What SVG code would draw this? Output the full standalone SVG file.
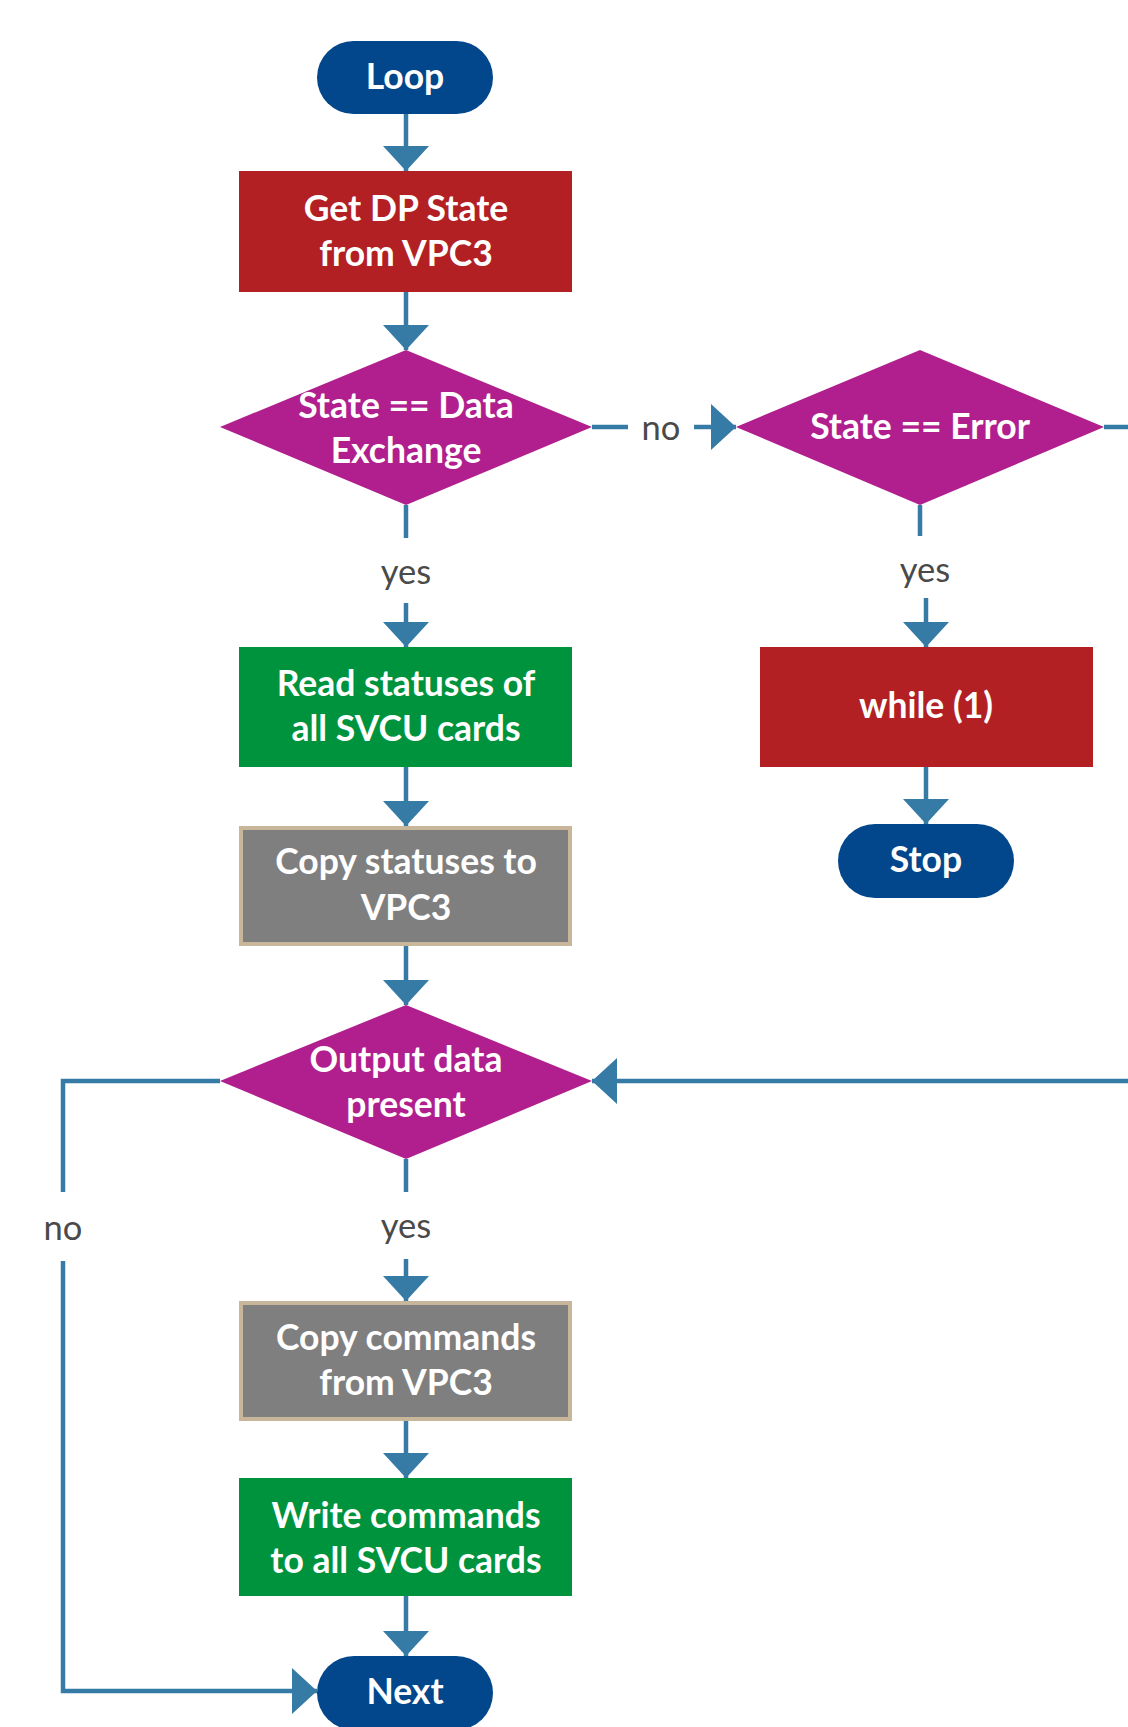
<svg xmlns="http://www.w3.org/2000/svg" width="1128" height="1727" viewBox="0 0 1128 1727">
  <style>
    .term { fill: #02468b; }
    .red { fill: #b22024; }
    .dec { fill: #b01f8d; }
    .green { fill: #00933d; }
    .gray { fill: #7f7f7f; stroke: #c8b69a; stroke-width: 4; }
    .lbl { font-family: Lato, "Open Sans", "Liberation Sans", sans-serif; font-size: 35.5px; font-weight: 700; fill: #ffffff; text-anchor: middle; }
    .edge { font-family: Lato, "Open Sans", "Liberation Sans", sans-serif; font-size: 34.5px; font-weight: 400; fill: #4a4a4a; text-anchor: middle; }
    .conn { fill: none; stroke: #357ba6; stroke-width: 4.5; }
  </style>
  <defs>
    <marker id="arrow" markerUnits="userSpaceOnUse" markerWidth="26" markerHeight="46" refX="25" refY="23" orient="auto" viewBox="0 0 26 46">
      <path d="M0,0 L25,23 L0,46 Z" fill="#357ba6"/>
    </marker>
  </defs>
  <rect width="1128" height="1727" fill="#ffffff"/>

  <!-- connectors -->
  <g id="connectors">
    <line class="conn" x1="406" y1="113" x2="406" y2="171" marker-end="url(#arrow)"/>
    <line class="conn" x1="406" y1="292" x2="406" y2="350" marker-end="url(#arrow)"/>
    <!-- data exchange: no -->
    <line class="conn" x1="592" y1="427" x2="628" y2="427"/>
    <line class="conn" x1="694" y1="427" x2="736" y2="427" marker-end="url(#arrow)"/>
    <text class="edge" x="661" y="440">no</text>
    <!-- data exchange: yes -->
    <line class="conn" x1="406" y1="505" x2="406" y2="538"/>
    <text class="edge" x="406" y="584">yes</text>
    <line class="conn" x1="406" y1="603" x2="406" y2="647" marker-end="url(#arrow)"/>
    <!-- error: yes -->
    <line class="conn" x1="920" y1="505" x2="920" y2="536"/>
    <text class="edge" x="925" y="582">yes</text>
    <line class="conn" x1="926" y1="598" x2="926" y2="647" marker-end="url(#arrow)"/>
    <line class="conn" x1="926" y1="767" x2="926" y2="824" marker-end="url(#arrow)"/>
    <!-- error: no, running round the right edge back into the output check -->
    <polyline class="conn" points="1104,427 1140,427 1140,1081"/>
    <line class="conn" x1="1140" y1="1081" x2="592" y2="1081" marker-end="url(#arrow)"/>
    <!-- main column -->
    <line class="conn" x1="406" y1="767" x2="406" y2="826" marker-end="url(#arrow)"/>
    <line class="conn" x1="406" y1="945" x2="406" y2="1005" marker-end="url(#arrow)"/>
    <!-- output data: no -->
    <polyline class="conn" points="220,1081 63,1081 63,1192"/>
    <text class="edge" x="63" y="1240">no</text>
    <polyline class="conn" points="63,1261 63,1691 317,1691" marker-end="url(#arrow)"/>
    <!-- output data: yes -->
    <line class="conn" x1="406" y1="1159" x2="406" y2="1192"/>
    <text class="edge" x="406" y="1238">yes</text>
    <line class="conn" x1="406" y1="1259" x2="406" y2="1301" marker-end="url(#arrow)"/>
    <line class="conn" x1="406" y1="1420" x2="406" y2="1478" marker-end="url(#arrow)"/>
    <line class="conn" x1="406" y1="1596" x2="406" y2="1656" marker-end="url(#arrow)"/>
  </g>

  <g id="loop">
    <rect class="term" x="317" y="41" width="176" height="73" rx="36.5"/>
    <text class="lbl" x="405" y="89">Loop</text>
  </g>
  <g id="get-dp-state">
    <rect class="red" x="239" y="171" width="333" height="121"/>
    <text class="lbl" x="406" y="221">Get DP State</text>
    <text class="lbl" x="406" y="266">from VPC3</text>
  </g>
  <g id="is-data-exchange">
    <polygon class="dec" points="406,350 592,427 406,505 220,427"/>
    <text class="lbl" x="406" y="418">State == Data</text>
    <text class="lbl" x="406" y="463">Exchange</text>
  </g>
  <g id="is-error">
    <polygon class="dec" points="920,350 1104,427 920,505 736,427"/>
    <text class="lbl" x="920" y="439">State == Error</text>
  </g>
  <g id="while-1">
    <rect class="red" x="760" y="647" width="333" height="120"/>
    <text class="lbl" x="926" y="718">while (1)</text>
  </g>
  <g id="stop">
    <rect class="term" x="838" y="824" width="176" height="74" rx="37"/>
    <text class="lbl" x="926" y="872">Stop</text>
  </g>
  <g id="read-statuses">
    <rect class="green" x="239" y="647" width="333" height="120"/>
    <text class="lbl" x="406" y="696">Read statuses of</text>
    <text class="lbl" x="406" y="741">all SVCU cards</text>
  </g>
  <g id="copy-statuses">
    <rect class="gray" x="241" y="828" width="329" height="116"/>
    <text class="lbl" x="406" y="874">Copy statuses to</text>
    <text class="lbl" x="406" y="920">VPC3</text>
  </g>
  <g id="output-data-present">
    <polygon class="dec" points="406,1005 592,1081 406,1159 220,1081"/>
    <text class="lbl" x="406" y="1072">Output data</text>
    <text class="lbl" x="406" y="1117">present</text>
  </g>
  <g id="copy-commands">
    <rect class="gray" x="241" y="1303" width="329" height="116"/>
    <text class="lbl" x="406" y="1350">Copy commands</text>
    <text class="lbl" x="406" y="1395">from VPC3</text>
  </g>
  <g id="write-commands">
    <rect class="green" x="239" y="1478" width="333" height="118"/>
    <text class="lbl" x="406" y="1528">Write commands</text>
    <text class="lbl" x="406" y="1573">to all SVCU cards</text>
  </g>
  <g id="next">
    <rect class="term" x="317" y="1656" width="176" height="74" rx="37"/>
    <text class="lbl" x="405" y="1704">Next</text>
  </g>
</svg>
